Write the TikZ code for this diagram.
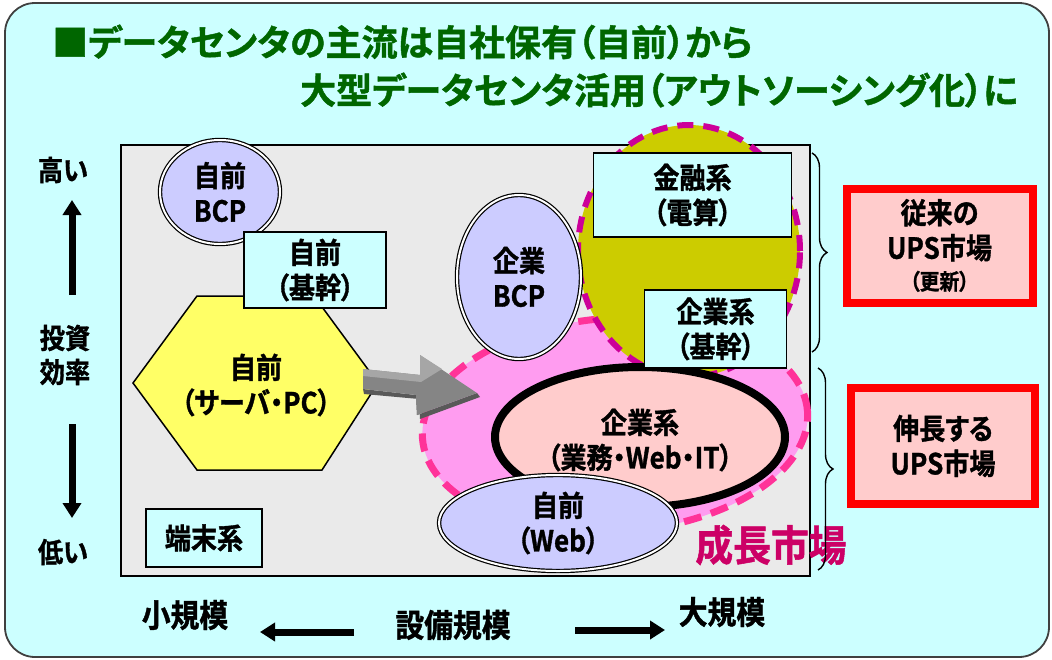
\documentclass[tikz,border=0pt]{standalone}
\usepackage{fontspec}
\usetikzlibrary{shapes.geometric,arrows.meta,decorations.pathreplacing}
\newfontfamily\jpc{Noto Sans CJK JP}[BoldFont={* Bold},BoldFeatures={FakeBold=1.2},FakeStretch=0.9,RawFeature={+palt}]
\newfontfamily\jpt{Noto Sans CJK JP}[BoldFont={* Bold},BoldFeatures={FakeBold=1.2},FakeStretch=1.0,RawFeature={+palt}]
\definecolor{bgcyan}{HTML}{CCFFFF}
\definecolor{grayfill}{HTML}{EAEAEA}
\definecolor{lav}{HTML}{CCCCFF}
\definecolor{hexyellow}{HTML}{FFFF66}
\definecolor{olive}{HTML}{CCCC00}
\definecolor{pinkblob}{HTML}{FF9CF0}
\definecolor{rosefill}{HTML}{FFCCCC}
\definecolor{dashpink}{HTML}{FF3399}
\definecolor{dashmag}{HTML}{CC0099}
\definecolor{growth}{HTML}{CC0066}
\definecolor{titlegreen}{HTML}{006600}
\begin{document}
\begin{tikzpicture}[x=1pt,y=-1pt,
  lbl/.style={font=\jpc\bfseries\fontsize{29}{35}\selectfont, align=center, text=black, inner sep=0pt},
  sqbox/.style={draw=black, line width=1.5pt, fill=bgcyan, inner sep=0pt},
  dbl/.style={ellipse, draw=black, line width=1.2pt, double=white, double distance=2pt, fill=lav, inner sep=0pt},
  redbox/.style={draw=red, line width=8pt, fill=rosefill, inner sep=0pt},
  axarrow/.style={line width=7pt, -{Triangle[width=18pt,length=15pt]}},
  brc/.style={decorate, decoration={brace, amplitude=15pt}, line width=1.4pt},
  ttl/.style={font=\jpt\bfseries\fontsize{36}{40}\selectfont, text=titlegreen, anchor=west, inner sep=0pt},
]
\useasboundingbox (0,0) rectangle (1052,659);
% frame
\draw[draw=black!75, line width=1.8pt, fill=bgcyan, rounded corners=30pt] (5,3) rectangle (1049,657);
% title
\node[ttl] (t1) at (52,42) {■データセンタの主流は自社保有（自前）から};
\node[ttl] (t2) at (300,90) {大型データセンタ活用（アウトソーシング化）に};
% main gray area
\node[draw=black, line width=2pt, fill=grayfill, minimum width=689pt, minimum height=431pt, inner sep=0pt] (area) at (465.5,360.5) {};
% own BCP
\node[dbl, minimum width=120pt, minimum height=104pt] (obcp) at (220,192) {};
\node[lbl] (obcpt) at (obcp) {自前\\BCP};
% hexagon
\draw[draw=black, line width=1.5pt, fill=hexyellow] (133,383) -- (197,296) -- (314,296) -- (378,383) -- (322,470) -- (197,470) -- cycle;
\node[lbl] (hexl) at (256,385) {自前\\（サーバ・PC）};
% own core box
\node[sqbox, minimum width=142pt, minimum height=76pt, lbl] (okikan) at (315,270) {自前\\（基幹）};
% terminal
\node[sqbox, minimum width=116pt, minimum height=58pt, lbl] (term) at (204,538) {端末系};
% pink growth blob
\node[ellipse, fill=pinkblob, draw=dashpink, line width=7pt, dash pattern=on 18pt off 10pt, minimum width=386pt, minimum height=214pt, inner sep=0pt, rotate=4] (blob) at (615,425) {};
% olive circle
\node[ellipse, fill=olive, draw=dashmag, line width=6pt, dash pattern=on 16pt off 10pt, minimum width=222pt, minimum height=252pt, inner sep=0pt] (oc) at (689,251) {};
% enterprise business ellipse
\node[ellipse, fill=rosefill, draw=black, line width=8pt, minimum width=290pt, minimum height=140pt, inner sep=0pt] (biz) at (640,437) {};
\node[lbl] (bizt) at (640,440) {企業系\\（業務・Web・IT）};
% enterprise BCP
\node[dbl, minimum width=124pt, minimum height=164pt] (ebcp) at (519,277) {};
\node[lbl] (ebcpt) at (ebcp) {企業\\BCP};
% finance box
\node[sqbox, minimum width=198pt, minimum height=84pt, lbl] (fin) at (692.5,195) {金融系\\（電算）};
% enterprise core box
\node[sqbox, minimum width=142pt, minimum height=78pt, lbl] (ekikan) at (715.5,329) {企業系\\（基幹）};
% own web
\node[dbl, minimum width=238pt, minimum height=96pt] (oweb) at (558,523) {};
\node[lbl] (owebt) at (oweb) {自前\\（Web）};
% gray arrow
\fill[black!65] (363,389) -- (416,395) -- (417,415) -- (477,393) -- (480,397) -- (420,419) -- (419,399) -- (364,394) -- cycle;
\fill[black!48] (363,369) -- (420,375) -- (420,355) -- (477,393) -- (417,415) -- (416,395) -- (363,389) -- cycle;
\fill[black!35] (363,369) -- (420,375) -- (420,355) -- (442,369) -- (421,382) -- (363,376) -- cycle;
\node[inner sep=0pt] (arr) at (420,386) {};
% growth market label
\node[font=\jpc\bfseries\fontsize{42}{46}\selectfont, text=growth, inner sep=0pt] (grow) at (771,545) {成長市場};
% braces
\coordinate (b1t) at (812,153);
\coordinate (b1b) at (812,352);
\coordinate (b2t) at (818,368);
\coordinate (b2b) at (818,570);
\draw[brc] (b1t) -- (b1b);
\draw[brc] (b2t) -- (b2b);
% red boxes
\node[redbox, minimum width=186pt, minimum height=114pt] (ups1) at (939.5,245.5) {};
\node[lbl] (ups1t) at (939.5,245.5) {従来の\\UPS市場\\[-4pt]{\fontsize{22}{26}\selectfont （更新）}};
\node[redbox, minimum width=184pt, minimum height=116pt, lbl] (ups2) at (943,446) {伸長する\\UPS市場};
% left axis
\node[lbl, font=\jpc\bfseries\fontsize{28}{34}\selectfont] (high) at (63,170) {高い};
\node[lbl, font=\jpc\bfseries\fontsize{28}{34}\selectfont] (eff) at (65,355) {投資\\効率};
\node[lbl, font=\jpc\bfseries\fontsize{28}{34}\selectfont] (low) at (63,552) {低い};
\coordinate (ua) at (72,295);
\coordinate (ub) at (72,200);
\coordinate (da) at (72,424);
\coordinate (db) at (72,518);
\draw[axarrow] (ua) -- (ub);
\draw[axarrow] (da) -- (db);
% bottom axis
\node[lbl, font=\jpc\bfseries\fontsize{32}{36}\selectfont] (small) at (185,615) {小規模};
\node[lbl, font=\jpc\bfseries\fontsize{32}{36}\selectfont] (scale) at (453,625) {設備規模};
\node[lbl, font=\jpc\bfseries\fontsize{32}{36}\selectfont] (large) at (722,612) {大規模};
\coordinate (la1) at (354,632);
\coordinate (la2) at (260,632);
\coordinate (ra1) at (575,630);
\coordinate (ra2) at (665,630);
\draw[axarrow] (la1) -- (la2);
\draw[axarrow] (ra1) -- (ra2);
\end{tikzpicture}
\end{document}
